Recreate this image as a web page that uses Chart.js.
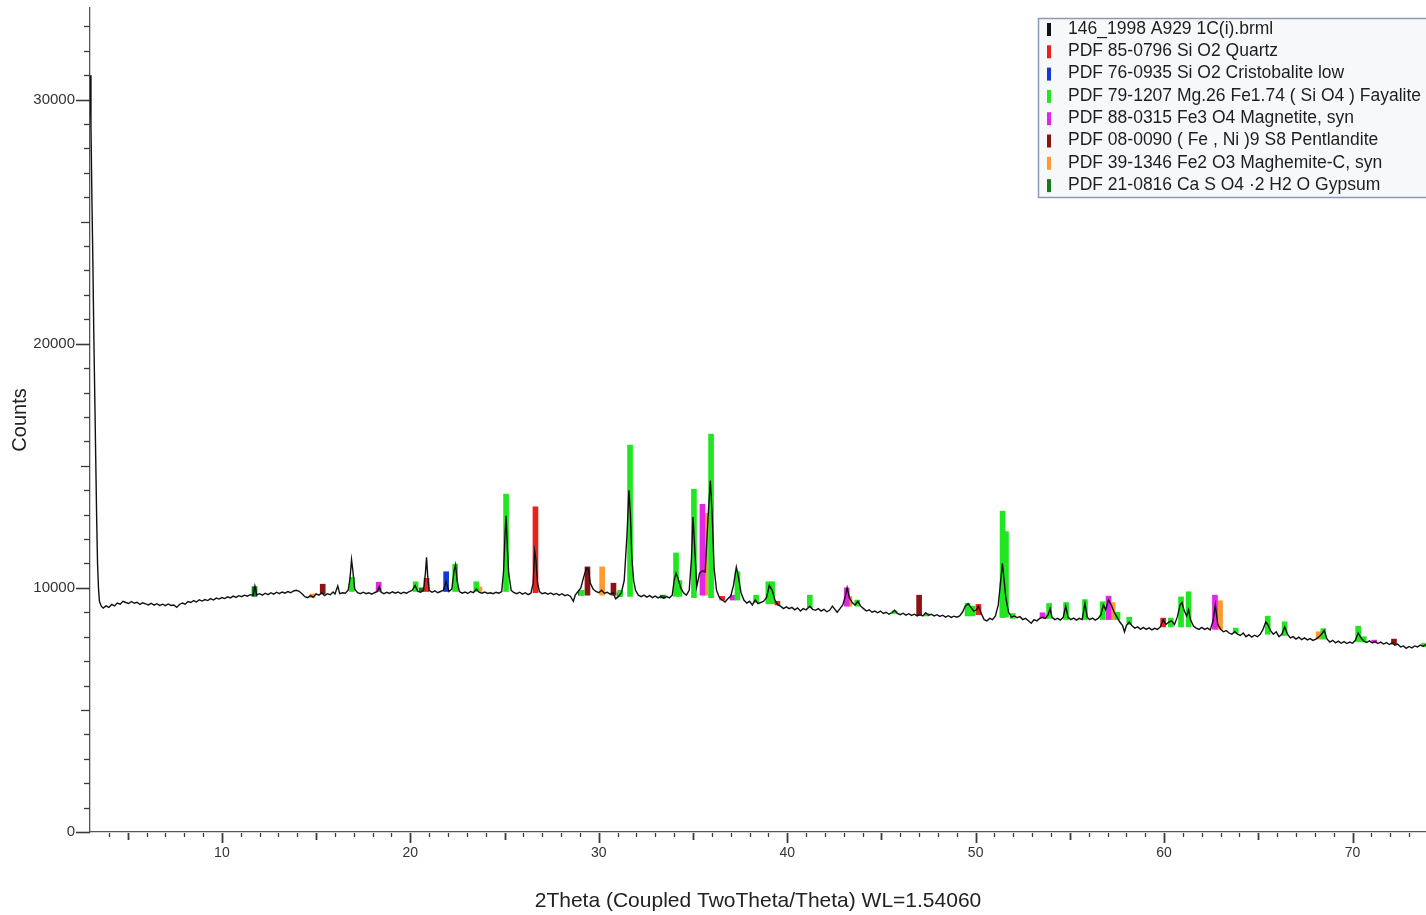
<!DOCTYPE html>
<html>
<head>
<meta charset="utf-8">
<script src="https://cdn.jsdelivr.net/npm/chart.js@4/dist/chart.umd.min.js"></script>
<style>
  html, body { margin: 0; padding: 0; background: #fff; }
  #wrap { width: 1426px; height: 915px; position: relative; }
</style>
</head>
<body>
<div id="wrap"><canvas id="xrd"></canvas></div>
<script>
// measured pattern: [2theta, counts]
const trace = [
  [3.00,31000],[3.05,29000],[3.10,26000],[3.15,23500],[3.20,20500],[3.25,18000],[3.30,15500],[3.35,13000],
  [3.40,11000],[3.45,10000],[3.50,9450],[3.60,9250],[3.70,9170],[3.85,9260],[4.00,9200],[4.15,9320],
  [4.30,9260],[4.45,9380],[4.60,9330],[4.75,9450],[4.90,9400],[5.05,9360],[5.20,9440],[5.35,9370],
  [5.50,9410],[5.65,9320],[5.80,9390],[5.95,9340],[6.10,9300],[6.25,9370],[6.40,9290],[6.55,9350],
  [6.70,9280],[6.85,9330],[7.00,9270],[7.15,9340],[7.30,9280],[7.45,9300],[7.60,9200],[7.75,9320],
  [7.90,9380],[8.05,9330],[8.20,9440],[8.35,9400],[8.50,9480],[8.65,9420],[8.80,9510],[8.95,9460],
  [9.10,9520],[9.25,9480],[9.40,9560],[9.55,9500],[9.70,9580],[9.85,9540],[10.00,9600],[10.15,9560],
  [10.30,9630],[10.45,9590],[10.60,9660],[10.75,9610],[10.90,9680],[11.05,9640],[11.20,9700],[11.35,9660],
  [11.50,9720],[11.65,9690],[11.75,10080],[11.85,9710],[12.00,9760],[12.15,9700],[12.30,9780],[12.45,9720],
  [12.60,9800],[12.75,9740],[12.90,9820],[13.05,9760],[13.20,9830],[13.35,9780],[13.50,9850],[13.65,9800],
  [13.80,9870],[13.95,9900],[14.10,9860],[14.25,9760],[14.40,9640],[14.55,9600],[14.70,9680],[14.85,9620],
  [15.00,9750],[15.15,9700],[15.30,9800],[15.45,9680],[15.60,9760],[15.75,9720],[15.90,9830],[16.00,9750],
  [16.15,10080],[16.25,9760],[16.40,9800],[16.55,9780],[16.70,9900],[16.80,10400],[16.88,11150],[16.95,10700],
  [17.05,9950],[17.20,9800],[17.35,9760],[17.50,9820],[17.65,9760],[17.80,9800],[17.95,9740],[18.10,9800],
  [18.25,9850],[18.35,10050],[18.45,9820],[18.60,9760],[18.75,9820],[18.90,9770],[19.05,9840],[19.20,9780],
  [19.35,9830],[19.50,9760],[19.65,9820],[19.80,9780],[19.95,9850],[20.10,9900],[20.25,10100],[20.40,9850],
  [20.55,9820],[20.70,9900],[20.80,10600],[20.86,11250],[20.92,10500],[21.00,9900],[21.15,9820],[21.30,9880],
  [21.45,9800],[21.60,9850],[21.75,9900],[21.90,10250],[22.05,9850],[22.20,9950],[22.32,10700],[22.40,10950],
  [22.48,10300],[22.60,9850],[22.75,9780],[22.90,9830],[23.05,9770],[23.20,9850],[23.35,9800],[23.50,9950],
  [23.65,9820],[23.80,9780],[23.95,9830],[24.10,9770],[24.25,9800],[24.40,9760],[24.55,9820],[24.70,9780],
  [24.85,9850],[24.95,10700],[25.02,12100],[25.08,12950],[25.15,11600],[25.22,10600],[25.35,9900],[25.50,9800],
  [25.65,9760],[25.80,9820],[25.95,9740],[26.10,9800],[26.25,9720],[26.40,9780],[26.52,10200],[26.60,11500],
  [26.66,11200],[26.75,10200],[26.85,9850],[27.00,9760],[27.15,9800],[27.30,9740],[27.45,9790],[27.60,9720],
  [27.75,9770],[27.90,9700],[28.05,9760],[28.20,9680],[28.35,9720],[28.50,9650],[28.65,9450],[28.75,9700],
  [28.90,9850],[29.05,10000],[29.20,10450],[29.35,10800],[29.45,10750],[29.55,10200],[29.70,9950],[29.85,9850],
  [30.00,9800],[30.15,9900],[30.30,9780],[30.45,9820],[30.60,9740],[30.75,9800],[30.90,9550],[31.05,9650],
  [31.20,9800],[31.35,10300],[31.50,12200],[31.60,14000],[31.68,13000],[31.75,11300],[31.85,10300],[31.95,9900],
  [32.10,9700],[32.25,9640],[32.40,9700],[32.55,9620],[32.70,9680],[32.85,9600],[33.00,9660],[33.15,9590],
  [33.30,9650],[33.45,9580],[33.60,9640],[33.75,9590],[33.90,9700],[34.00,10300],[34.10,10600],[34.20,10400],
  [34.35,10000],[34.50,9800],[34.65,9700],[34.80,9900],[34.92,11200],[35.00,12900],[35.08,11800],[35.20,10050],
  [35.35,10600],[35.50,10700],[35.65,10650],[35.80,12900],[35.92,14400],[36.02,13000],[36.12,10800],[36.25,9900],
  [36.40,9600],[36.55,9500],[36.70,9420],[36.85,9550],[37.00,9650],[37.15,10100],[37.30,10850],[37.40,10500],
  [37.55,9800],[37.70,9500],[37.85,9380],[38.00,9450],[38.15,9300],[38.30,9500],[38.45,9350],[38.60,9400],
  [38.75,9450],[38.90,9600],[39.05,10100],[39.20,9900],[39.35,9500],[39.50,9300],[39.65,9250],[39.80,9150],
  [39.95,9220],[40.10,9150],[40.25,9200],[40.40,9100],[40.55,9180],[40.70,9050],[40.85,9150],[41.00,9100],
  [41.20,9250],[41.35,9120],[41.50,9080],[41.65,9150],[41.80,9050],[41.95,9120],[42.10,9020],[42.25,9080],
  [42.40,9250],[42.50,9150],[42.65,9000],[42.80,9150],[42.95,9300],[43.10,9700],[43.18,10000],[43.30,9600],
  [43.45,9400],[43.60,9300],[43.75,9450],[43.90,9250],[44.05,9150],[44.20,9050],[44.35,9100],[44.50,9000],
  [44.65,9050],[44.80,8980],[44.95,9050],[45.10,8950],[45.25,9000],[45.40,8920],[45.55,8980],[45.70,9080],
  [45.85,8950],[46.00,8900],[46.15,8960],[46.30,8880],[46.45,8940],[46.60,8870],[46.75,8920],[46.90,8850],
  [47.05,8900],[47.20,8850],[47.35,8980],[47.50,8880],[47.65,8920],[47.80,8850],[47.95,8900],[48.10,8830],
  [48.25,8880],[48.40,8800],[48.55,8860],[48.70,8790],[48.85,8840],[49.00,8800],[49.15,8850],[49.30,9000],
  [49.45,9250],[49.60,9350],[49.75,9200],[49.90,9050],[50.05,9100],[50.15,9250],[50.30,8950],[50.45,8700],
  [50.60,8650],[50.75,8750],[50.90,8700],[51.05,8850],[51.20,9300],[51.32,10200],[51.42,11000],[51.50,10400],
  [51.60,9600],[51.75,9000],[51.90,8800],[52.05,8850],[52.20,8780],[52.35,8820],[52.50,8700],[52.65,8750],
  [52.80,8650],[52.95,8550],[53.10,8700],[53.25,8650],[53.40,8750],[53.55,8800],[53.70,8750],[53.85,8900],
  [53.95,9150],[54.05,8800],[54.20,8700],[54.35,8750],[54.50,8680],[54.65,8800],[54.78,9250],[54.90,8800],
  [55.05,8700],[55.20,8760],[55.35,8680],[55.50,8750],[55.65,8700],[55.80,9350],[55.92,8800],[56.05,8700],
  [56.20,8760],[56.35,8680],[56.50,8750],[56.65,8900],[56.78,9300],[56.90,9100],[57.05,9500],[57.20,9300],
  [57.35,9000],[57.50,8800],[57.65,8600],[57.80,8450],[57.90,8200],[58.00,8450],[58.15,8600],[58.30,8450],
  [58.45,8350],[58.60,8400],[58.75,8300],[58.90,8380],[59.05,8300],[59.20,8360],[59.35,8280],[59.50,8340],
  [59.65,8300],[59.80,8400],[59.95,8700],[60.10,8500],[60.25,8600],[60.40,8650],[60.55,8500],[60.70,8800],
  [60.85,9300],[60.95,9400],[61.05,9100],[61.20,8850],[61.30,9100],[61.40,8700],[61.55,8450],[61.70,8350],
  [61.85,8300],[62.00,8380],[62.15,8300],[62.30,8350],[62.45,8280],[62.60,8650],[62.72,9300],[62.85,8500],
  [63.00,8300],[63.15,8200],[63.30,8250],[63.45,8150],[63.60,8100],[63.75,8200],[63.90,8100],[64.05,8050],
  [64.20,8150],[64.35,8000],[64.50,8080],[64.65,7980],[64.80,8060],[64.95,8000],[65.10,8100],[65.25,8300],
  [65.40,8600],[65.50,8500],[65.65,8250],[65.80,8100],[65.95,8200],[66.10,8000],[66.25,8100],[66.40,8400],
  [66.55,8100],[66.70,7950],[66.85,8000],[67.00,7900],[67.15,7980],[67.30,7880],[67.45,7950],[67.60,7870],
  [67.75,7920],[67.90,7850],[68.05,7900],[68.20,7980],[68.35,8100],[68.50,8250],[68.65,7900],[68.80,7780],
  [68.95,7850],[69.10,7750],[69.25,7820],[69.40,7730],[69.55,7800],[69.70,7720],[69.85,7780],[70.00,7730],
  [70.15,7850],[70.30,8150],[70.45,7950],[70.60,7820],[70.75,7760],[70.90,7830],[71.05,7740],[71.20,7800],
  [71.35,7720],[71.50,7780],[71.65,7700],[71.80,7760],[71.95,7680],[72.10,7750],[72.25,7650],[72.40,7700],
  [72.55,7580],[72.70,7620],[72.85,7520],[73.00,7600],[73.15,7540],[73.30,7620],[73.45,7580],[73.60,7660],
  [73.75,7600],[73.90,7680]
];

// reference sticks per phase: [2theta, base, top]
const quartz = [[20.86,9850,10390],[26.64,9800,13320],[36.55,9500,9650],[39.48,9300,9450],[50.15,8900,9320],[59.95,8400,8760]];
const cristobalite = [[21.90,9850,10660]];
const fayalite = [
  [16.90,9850,10430],[20.28,9850,10250],[22.38,9850,10970],[23.50,9850,10250],[25.08,9850,13840],[29.10,9700,9900],
  [31.13,9650,9900],[31.66,9650,15850],[34.10,9650,11430],[34.28,9650,10300],[35.05,9600,14040],[35.96,9600,16300],
  [37.36,9500,10660],[38.35,9400,9700],[39.00,9350,10250],[39.20,9350,10250],[41.20,9200,9700],[43.72,9250,9500],
  [45.70,8950,9050],[47.40,8850,8950],[49.57,8850,9370],[49.84,8850,9250],[51.43,8800,13140],[51.61,8800,12300],
  [51.97,8750,8950],[53.90,8750,9360],[54.80,8700,9400],[55.80,8700,9520],[56.74,8700,9430],[57.53,8700,9000],
  [58.15,8500,8800],[60.36,8400,8760],[60.90,8400,9630],[61.30,8400,9840],[63.80,8150,8350],[65.50,8100,8840],
  [66.40,8050,8610],[68.45,7900,8330],[70.30,7800,8430],[70.60,7780,8000],[73.80,7600,7730]
];
const magnetite = [[18.32,9850,10230],[35.50,9700,13420],[37.10,9500,9700],[43.16,9250,10000],[53.55,8750,8980],[57.05,8700,9660],[62.70,8300,9700],[71.15,7750,7860]];
const pentlandite = [[15.35,9750,10150],[29.40,9700,10860],[30.78,9700,10190],[39.15,9400,9700],[47.00,8880,9700],[51.43,8800,10250],[72.20,7700,7900]];
const maghemite = [[14.80,9600,9750],[23.67,9850,10040],[30.18,9700,10860],[35.66,9700,13050],[43.30,9250,9650],[53.70,8750,8900],[57.27,8700,9400],[62.97,8300,9470],[68.20,7900,8200]];
const gypsum = [[11.73,9650,10050],[20.60,9850,10000],[29.05,9700,9850],[31.10,9650,9800],[33.40,9580,9700]];

const seriesNames = [
  '146_1998 A929 1C(i).brml',
  'PDF 85-0796 Si O2 Quartz',
  'PDF 76-0935 Si O2 Cristobalite low',
  'PDF 79-1207 Mg.26 Fe1.74 ( Si O4 ) Fayalite',
  'PDF 88-0315 Fe3 O4 Magnetite, syn',
  'PDF 08-0090 ( Fe , Ni )9 S8 Pentlandite',
  'PDF 39-1346 Fe2 O3 Maghemite-C, syn',
  'PDF 21-0816 Ca S O4 \u00b72 H2 O Gypsum'
];
const seriesColors = ['#111111', '#e8231f', '#1238d8', '#22e622', '#e326e3', '#8a1414', '#ff9933', '#137a1e'];
const phases = [quartz, cristobalite, fayalite, magnetite, pentlandite, maghemite, gypsum];

const xTickLabels = [10, 20, 30, 40, 50, 60, 70];
const yTickLabels = [0, 10000, 20000, 30000];
const xMin = 3, xMax = 73.9, yMin = 0, yMax = 33750;

const FONT = '"Liberation Sans", Arial, sans-serif';

// small tick marks like the diffractometer software draws
const axisTicks = {
  id: 'axisTicks',
  afterDraw(chart) {
    const { ctx, chartArea: a, scales: { x, y } } = chart;
    ctx.save();
    ctx.strokeStyle = '#3a3a3a';
    for (let v = 0; v <= yMax; v += 1000) {
      const py = Math.round(y.getPixelForValue(v)) + 0.5;
      const len = v % 10000 === 0 ? 14 : v % 5000 === 0 ? 9 : 6;
      ctx.lineWidth = v % 10000 === 0 ? 1.6 : 1.3;
      ctx.beginPath();
      ctx.moveTo(a.left - len, py);
      ctx.lineTo(a.left, py);
      ctx.stroke();
    }
    for (let t = Math.ceil(xMin) + 1; t <= xMax; t += 1) {
      const px = Math.round(x.getPixelForValue(t)) + 0.5;
      const len = t % 10 === 0 ? 11 : t % 5 === 0 ? 8 : 5;
      ctx.lineWidth = t % 5 === 0 ? 1.8 : 1.3;
      ctx.beginPath();
      ctx.moveTo(px, a.bottom + 1);
      ctx.lineTo(px, a.bottom + len);
      ctx.stroke();
    }
    ctx.restore();
  }
};

const legendBox = {
  id: 'legendBox',
  afterDraw(chart) {
    const ctx = chart.ctx;
    const left = 1038, top = 18, bottom = 197;
    ctx.save();
    ctx.fillStyle = '#f7f8fa';
    ctx.fillRect(left, top, 420, bottom - top);
    ctx.strokeStyle = '#8a9bb5';
    ctx.lineWidth = 1.5;
    ctx.strokeRect(left + 0.5, top + 0.5, 420, bottom - top);
    ctx.font = '17.5px ' + FONT;
    ctx.textBaseline = 'middle';
    seriesNames.forEach((name, i) => {
      const cy = 29 + i * 22.3;
      ctx.fillStyle = seriesColors[i];
      ctx.fillRect(1047, cy - 6, 4, 13);
      ctx.fillStyle = '#1e1e1e';
      ctx.fillText(name, 1068, cy);
    });
    ctx.restore();
  }
};

const datasets = [{
  type: 'line',
  label: seriesNames[0],
  data: trace.map(([t, c]) => ({ x: t, y: c })),
  borderColor: seriesColors[0],
  borderWidth: 1.4,
  pointRadius: 0,
  tension: 0,
  order: 0
}];
phases.forEach((sticks, i) => {
  datasets.push({
    type: 'bar',
    label: seriesNames[i + 1],
    data: sticks.map(([t, b, top]) => ({ x: t, y: [b, top] })),
    backgroundColor: seriesColors[i + 1],
    borderWidth: 0,
    barThickness: 5,
    stack: 'refs',
    order: 1
  });
});

new Chart(document.getElementById('xrd'), {
  type: 'line',
  data: { datasets },
  options: {
    responsive: true,
    maintainAspectRatio: false,
    animation: false,
    events: [],
    layout: { padding: { top: 8, right: 0, left: 0, bottom: 0 } },
    plugins: { legend: { display: false }, tooltip: { enabled: false } },
    scales: {
      x: {
        type: 'linear',
        min: xMin,
        max: xMax,
        offset: false,
        afterBuildTicks: s => { s.ticks = xTickLabels.map(v => ({ value: v })); },
        afterFit: s => { s.height = 83; s.paddingLeft = 0; s.paddingRight = 0; },
        grid: { offset: false, drawOnChartArea: false, tickLength: 11, color: 'rgba(0,0,0,0)' },
        border: { display: true, color: '#555', width: 1.3 },
        ticks: { padding: 2, color: '#333', font: { family: FONT, size: 14 }, maxRotation: 0, autoSkip: false,
                 callback: v => String(v) },
        title: { display: true, text: '2Theta (Coupled TwoTheta/Theta) WL=1.54060', color: '#222',
                 font: { family: FONT, size: 21 }, padding: { top: 0, bottom: 1 } }
      },
      y: {
        type: 'linear',
        min: yMin,
        max: yMax,
        stacked: false,
        afterBuildTicks: s => { s.ticks = yTickLabels.map(v => ({ value: v })); },
        afterFit: s => { s.width = 90; s.paddingTop = 0; s.paddingBottom = 0; },
        grid: { drawOnChartArea: false, tickLength: 14, color: 'rgba(0,0,0,0)' },
        border: { display: true, color: '#555', width: 1.3 },
        ticks: { padding: 1, color: '#333', font: { family: FONT, size: 15 }, callback: v => String(v) },
        title: { display: true, text: 'Counts', color: '#222',
                 font: { family: FONT, size: 20 }, padding: { top: 8, bottom: 0 } }
      }
    }
  },
  plugins: [axisTicks, legendBox]
});
</script>
</body>
</html>
